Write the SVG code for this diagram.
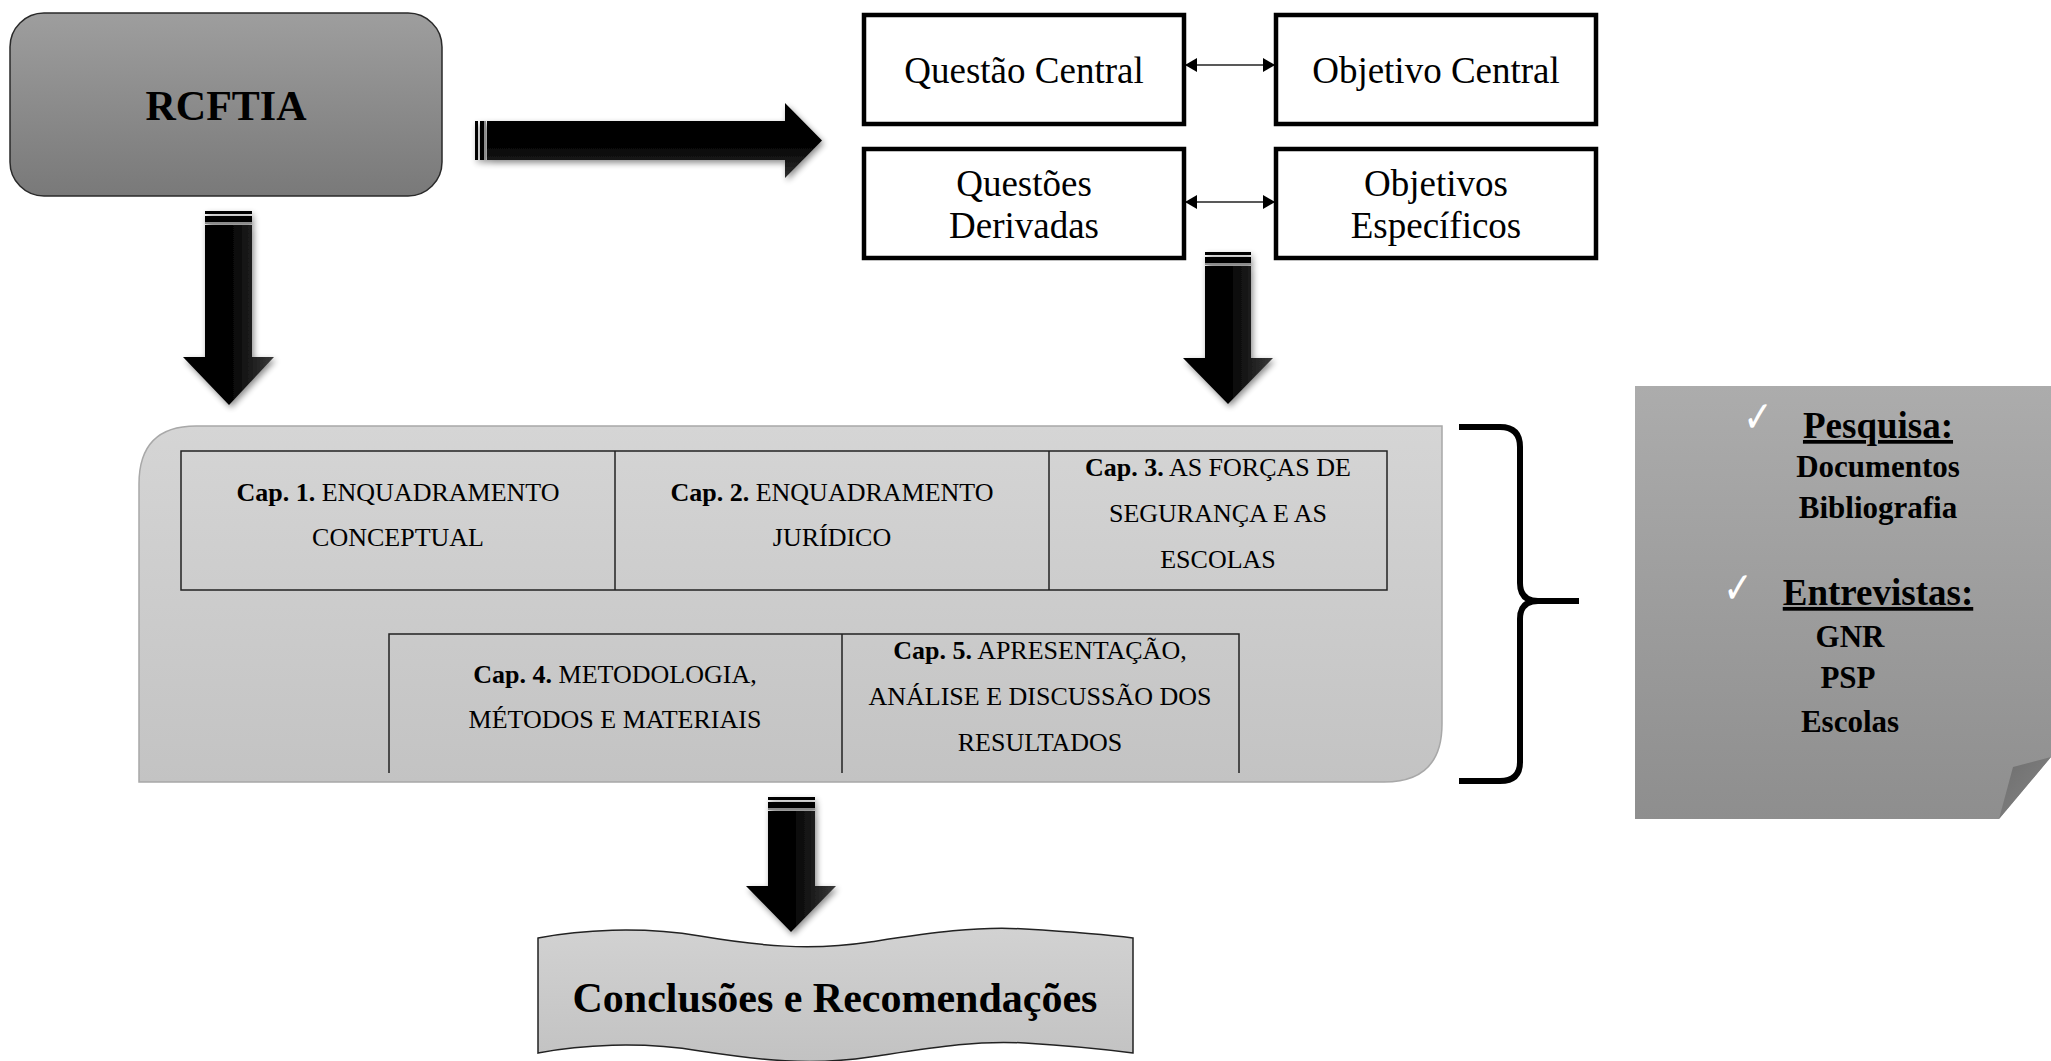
<svg xmlns="http://www.w3.org/2000/svg" width="2051" height="1061" viewBox="0 0 2051 1061">
<defs>
<style>
.serif{font-family:"Liberation Serif","Times New Roman",serif;fill:#000}
.b{font-weight:bold}
.cap{font-size:26px;text-anchor:middle}
.box{fill:#fff;stroke:#000;stroke-width:4.5}
.tbl{fill:none;stroke:#222;stroke-width:1.5}
.dbl{stroke:#222;stroke-width:1.6;fill:none}
.stripe{fill:#000}
.stripeg{fill:#8a8a8a}
.note{font-size:31px;font-weight:bold;text-anchor:middle}
.head{font-size:37px;font-weight:bold;text-anchor:middle;text-decoration:underline}
.check{font-family:"DejaVu Sans",sans-serif;font-size:44px;fill:#fff;text-anchor:middle}
</style>
<linearGradient id="gRc" x1="0" y1="0" x2="0" y2="1"><stop offset="0" stop-color="#9e9e9e"/><stop offset="1" stop-color="#797979"/></linearGradient>
<linearGradient id="gCont" x1="0" y1="0" x2="0" y2="1"><stop offset="0" stop-color="#d5d5d5"/><stop offset="1" stop-color="#c3c3c3"/></linearGradient>
<linearGradient id="gNote" x1="0" y1="0" x2="0" y2="1"><stop offset="0" stop-color="#acacac"/><stop offset="1" stop-color="#8e8e8e"/></linearGradient>
<linearGradient id="gFold" x1="0" y1="0" x2="1" y2="1"><stop offset="0" stop-color="#6e6e6e"/><stop offset="1" stop-color="#858585"/></linearGradient>
<linearGradient id="gBan" x1="0" y1="0" x2="0" y2="1"><stop offset="0" stop-color="#d2d2d2"/><stop offset="1" stop-color="#c2c2c2"/></linearGradient>
<linearGradient id="gDown" x1="0" y1="0" x2="1" y2="0"><stop offset="0" stop-color="#000"/><stop offset="0.55" stop-color="#060606"/><stop offset="1" stop-color="#3a3a3a"/></linearGradient>
<linearGradient id="gRight" x1="0" y1="0" x2="0" y2="1"><stop offset="0" stop-color="#000"/><stop offset="0.6" stop-color="#060606"/><stop offset="1" stop-color="#2e2e2e"/></linearGradient>
<filter id="sh" x="-20%" y="-20%" width="140%" height="140%">
<feGaussianBlur in="SourceAlpha" stdDeviation="3"/>
<feOffset dx="2" dy="3" result="o"/>
<feComponentTransfer><feFuncA type="linear" slope="0.45"/></feComponentTransfer>
<feMerge><feMergeNode/><feMergeNode in="SourceGraphic"/></feMerge>
</filter>
<marker id="ah" viewBox="0 0 12 14" refX="11" refY="7" markerWidth="12" markerHeight="14" markerUnits="userSpaceOnUse" orient="auto-start-reverse"><path d="M0,0 L12,7 L0,14 Z" fill="#000"/></marker>
</defs>
<rect width="2051" height="1061" fill="#fff"/>

<g id="rcftia">
<rect x="10" y="13" width="432" height="183" rx="34" ry="34" fill="url(#gRc)" stroke="#2a2a2a" stroke-width="1.5"/>
<text class="serif b" x="226" y="120" font-size="42" text-anchor="middle">RCFTIA</text>
</g>

<g id="questao-central">
<rect class="box" x="864" y="15" width="320" height="109"/>
<text class="serif" x="1024" y="83" font-size="37" text-anchor="middle">Questão Central</text>
</g>
<g id="objetivo-central">
<rect class="box" x="1276" y="15" width="320" height="109"/>
<text class="serif" x="1436" y="83" font-size="37" text-anchor="middle">Objetivo Central</text>
</g>
<g id="questoes-derivadas">
<rect class="box" x="864" y="149" width="320" height="109"/>
<text class="serif" x="1024" y="196" font-size="37" text-anchor="middle">Questões</text>
<text class="serif" x="1024" y="238" font-size="37" text-anchor="middle">Derivadas</text>
</g>
<g id="objetivos-especificos">
<rect class="box" x="1276" y="149" width="320" height="109"/>
<text class="serif" x="1436" y="196" font-size="37" text-anchor="middle">Objetivos</text>
<text class="serif" x="1436" y="238" font-size="37" text-anchor="middle">Específicos</text>
</g>

<g id="capitulos">
<path d="M196,426 L1442,426 L1442,724 Q1442,782 1384,782 L139,782 L139,484 Q139,426 196,426 Z" fill="url(#gCont)" stroke="#a8a8a8" stroke-width="1.5"/>
<rect class="tbl" x="181" y="451" width="1206" height="139"/>
<line class="tbl" x1="615" y1="451" x2="615" y2="590"/>
<line class="tbl" x1="1049" y1="451" x2="1049" y2="590"/>
<path class="tbl" d="M389,773 L389,634 L1239,634 L1239,773 M842,634 L842,773"/>
<text class="serif cap" x="398" y="501"><tspan class="b">Cap. 1.</tspan> ENQUADRAMENTO</text>
<text class="serif cap" x="398" y="546">CONCEPTUAL</text>
<text class="serif cap" x="832" y="501"><tspan class="b">Cap. 2.</tspan> ENQUADRAMENTO</text>
<text class="serif cap" x="832" y="546">JURÍDICO</text>
<text class="serif cap" x="1218" y="476"><tspan class="b">Cap. 3.</tspan> AS FORÇAS DE</text>
<text class="serif cap" x="1218" y="522">SEGURANÇA E AS</text>
<text class="serif cap" x="1218" y="568">ESCOLAS</text>
<text class="serif cap" x="615" y="683"><tspan class="b">Cap. 4.</tspan> METODOLOGIA,</text>
<text class="serif cap" x="615" y="728">MÉTODOS E MATERIAIS</text>
<text class="serif cap" x="1040" y="659"><tspan class="b">Cap. 5.</tspan> APRESENTAÇÃO,</text>
<text class="serif cap" x="1040" y="705">ANÁLISE E DISCUSSÃO DOS</text>
<text class="serif cap" x="1040" y="751">RESULTADOS</text>
</g>

<g id="brace">
<path d="M1459,427 L1500,427 Q1520,427 1520,447 L1520,583 Q1520,601 1538,601 L1579,601 M1538,601 Q1520,601 1520,619 L1520,762 Q1520,781 1500,781 L1459,781" fill="none" stroke="#000" stroke-width="6"/>
</g>

<g id="metodos">
<path d="M1635,386 L2051,386 L2051,757 L1999,819 L1635,819 Z" fill="url(#gNote)"/>
<path d="M2051,757 L2013,767 L1999,819 Z" fill="url(#gFold)"/>
<text class="check" transform="translate(1758,432) scale(0.8,1)">✓</text>
<text class="serif head" x="1878" y="438">Pesquisa:</text>
<text class="serif note" x="1878" y="477">Documentos</text>
<text class="serif note" x="1878" y="518">Bibliografia</text>
<text class="check" transform="translate(1738,603) scale(0.8,1)">✓</text>
<text class="serif head" x="1878" y="605">Entrevistas:</text>
<text class="serif note" x="1850" y="647">GNR</text>
<text class="serif note" x="1848" y="688">PSP</text>
<text class="serif note" x="1850" y="732">Escolas</text>
</g>

<g id="conclusoes">
<path d="M538,938 C580,930 640,926 700,936 C760,946 810,951 870,942 C930,933 975,926 1025,929 C1075,932 1110,935 1133,938 L1133,1053 C1110,1050 1075,1046 1025,1043 C975,1040 930,1048 870,1057 C810,1066 760,1060 700,1051 C640,1041 580,1045 538,1053 Z" fill="url(#gBan)" stroke="#222" stroke-width="1.5"/>
<text class="serif b" x="835" y="1012" font-size="42" text-anchor="middle">Conclusões e Recomendações</text>
</g>

<g id="connectors">
<line class="dbl" x1="1186" y1="65" x2="1274" y2="65" marker-start="url(#ah)" marker-end="url(#ah)"/>
<line class="dbl" x1="1186" y1="202" x2="1274" y2="202" marker-start="url(#ah)" marker-end="url(#ah)"/>
<g id="arrow-right" filter="url(#sh)">
<rect class="stripe" x="475" y="121" width="3" height="39"/>
<rect class="stripe" x="480" y="121" width="4" height="39"/>
<rect class="stripeg" x="484" y="121" width="2" height="39"/>
<path d="M487,121 L785,121 L785,103 L822,140.5 L785,178 L785,160 L487,160 Z" fill="url(#gRight)"/>
</g>
<g id="arrow-down-1" filter="url(#sh)">
<rect class="stripe" x="205" y="211" width="47" height="3"/>
<rect class="stripe" x="205" y="216" width="47" height="6"/>
<rect class="stripeg" x="205" y="222" width="47" height="2"/>
<path d="M205,225 L252,225 L252,357 L274,357 L229,405 L183,357 L205,357 Z" fill="url(#gDown)"/>
</g>
<g id="arrow-down-2" filter="url(#sh)">
<rect class="stripe" x="1205" y="252" width="46" height="3"/>
<rect class="stripe" x="1205" y="257" width="46" height="6"/>
<rect class="stripeg" x="1205" y="263" width="46" height="2"/>
<path d="M1205,266 L1251,266 L1251,358 L1273,358 L1228,404 L1183,358 L1205,358 Z" fill="url(#gDown)"/>
</g>
<g id="arrow-down-3" filter="url(#sh)">
<rect class="stripe" x="768" y="797" width="47" height="3"/>
<rect class="stripe" x="768" y="802" width="47" height="6"/>
<rect class="stripeg" x="768" y="808" width="47" height="2"/>
<path d="M768,811 L815,811 L815,886 L836,886 L791,932 L746,886 L768,886 Z" fill="url(#gDown)"/>
</g>
</g>
</svg>
